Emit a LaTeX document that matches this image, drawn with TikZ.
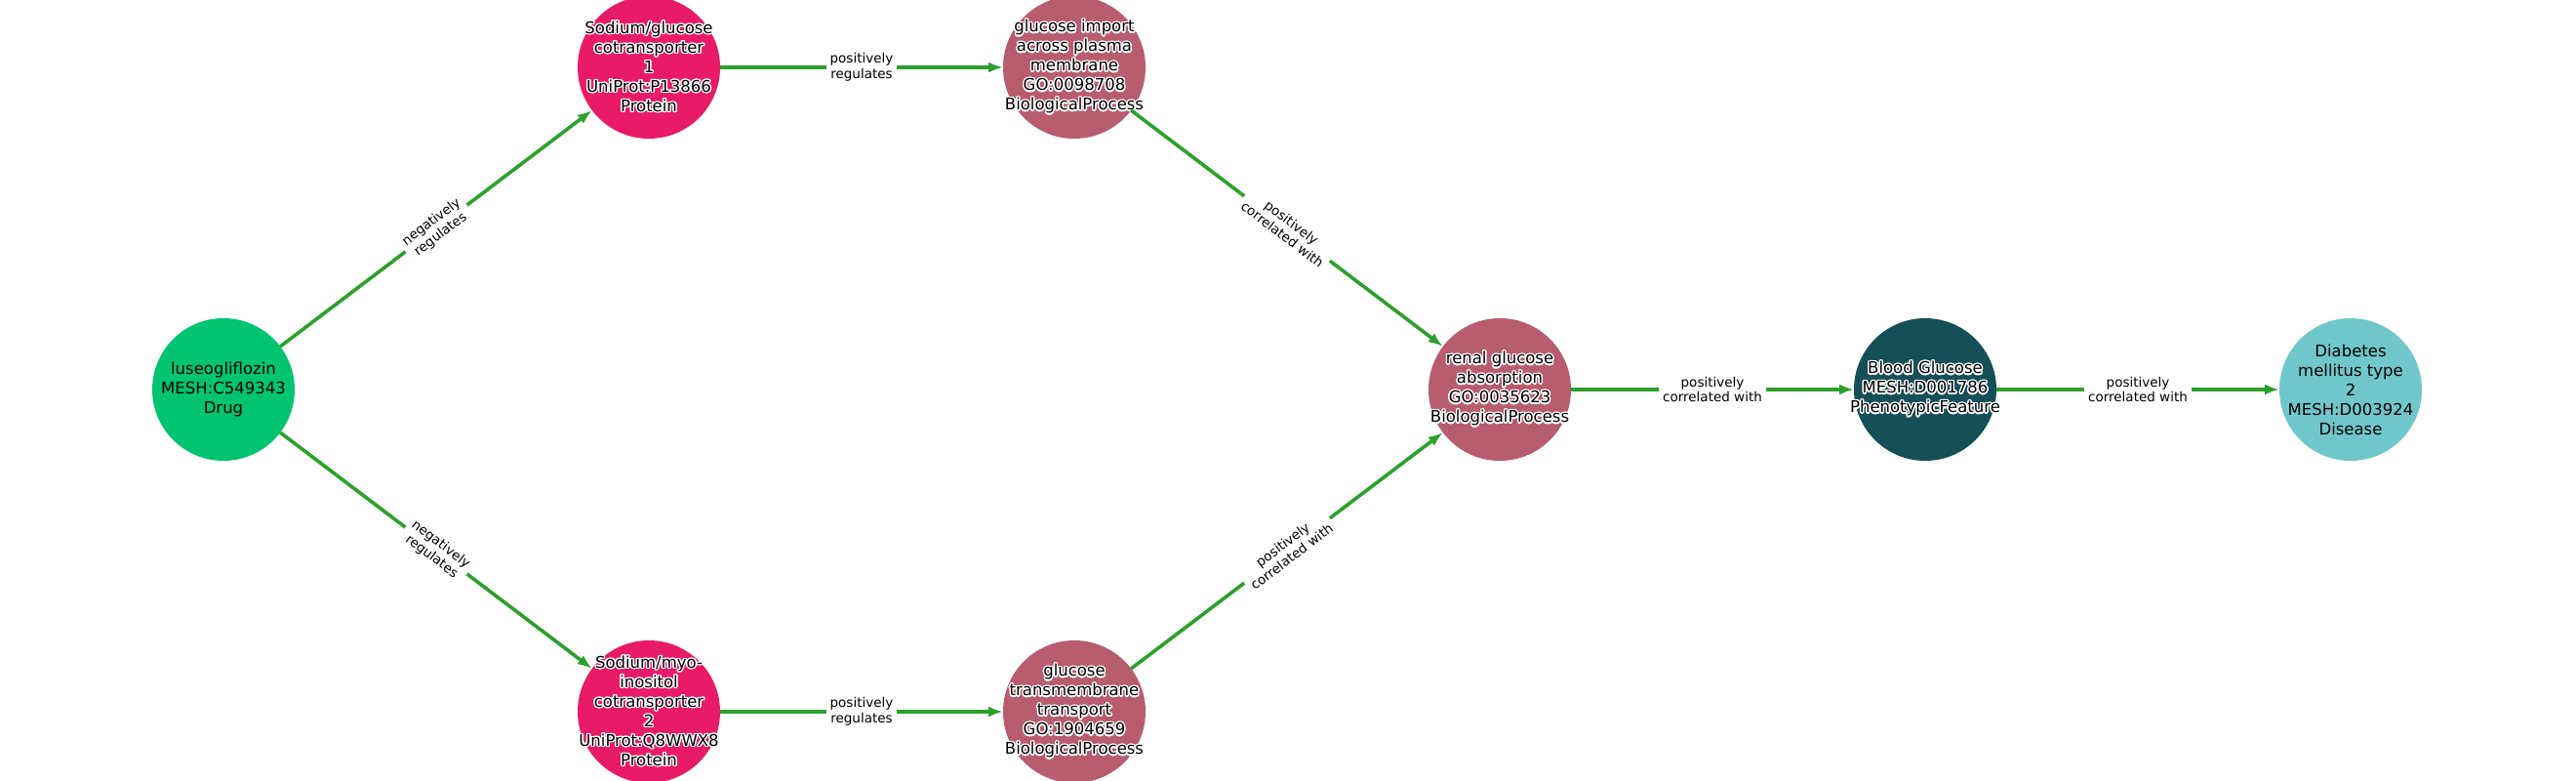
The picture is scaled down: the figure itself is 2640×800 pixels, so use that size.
\documentclass[tikz,border=0pt]{standalone}
\usepackage{fontspec}
\setmainfont{DejaVu Sans}
\usepackage{contour}
\contourlength{1.4pt}
\usetikzlibrary{arrows.meta}

\definecolor{drugcol}{RGB}{0,196,112}
\definecolor{protcol}{RGB}{233,26,104}
\definecolor{proccol}{RGB}{184,92,112}
\definecolor{phenocol}{RGB}{21,79,88}
\definecolor{discol}{RGB}{112,199,203}
\definecolor{edgecol}{RGB}{44,160,44}

\newcommand{\halo}[1]{\contour{white}{#1}}

\tikzset{
    entity/.style={circle, draw=none, minimum size=146pt, inner sep=0pt, outer sep=0pt},
    entitytext/.style={align=center, inner sep=0pt, font=\fontsize{16.5}{20}\selectfont},
    drugnode/.style={entity, fill=drugcol},
    protnode/.style={entity, fill=protcol},
    procnode/.style={entity, fill=proccol},
    phenonode/.style={entity, fill=phenocol},
    disnode/.style={entity, fill=discol},
    rel/.style={draw=edgecol, line width=3.6pt, -{Latex[length=15pt,width=11pt]}},
    rellabel/.style={fill=white, inner sep=4pt, align=center, text=black,
        font=\fontsize{13.5}{15.5}\selectfont}
}

\begin{document}
\begin{tikzpicture}[x=1pt, y=-1pt]
    \useasboundingbox (0,0) rectangle (2640,800);
    \clip (0,0) rectangle (2640,800);
    % Place nodes
    \node [drugnode, label={[entitytext]center:luseogliflozin\\MESH:C549343\\Drug}] (drug) at (229,399) {};
    \node [protnode, label={[entitytext]center:\halo{Sodium/glucose}\\\halo{cotransporter}\\\halo{1}\\\halo{UniProt:P13866}\\\halo{Protein}}] (sglt) at (665,69) {};
    \node [protnode, label={[entitytext]center:\halo{Sodium/myo-}\\\halo{inositol}\\\halo{cotransporter}\\\halo{2}\\\halo{UniProt:Q8WWX8}\\\halo{Protein}}] (smit) at (665,729) {};
    \node [procnode, label={[entitytext]center:\halo{glucose import}\\\halo{across plasma}\\\halo{membrane}\\\halo{GO:0098708}\\\halo{BiologicalProcess}}] (gimport) at (1101,69) {};
    \node [procnode, label={[entitytext]center:\halo{glucose}\\\halo{transmembrane}\\\halo{transport}\\\halo{GO:1904659}\\\halo{BiologicalProcess}}] (gtrans) at (1101,729) {};
    \node [procnode, label={[entitytext]center:\halo{renal glucose}\\\halo{absorption}\\\halo{GO:0035623}\\\halo{BiologicalProcess}}] (renal) at (1537,399) {};
    \node [phenonode, label={[entitytext]center:\halo{Blood Glucose}\\\halo{MESH:D001786}\\\halo{PhenotypicFeature}}] (blood) at (1973,399) {};
    \node [disnode, label={[entitytext]center:Diabetes\\mellitus type\\2\\MESH:D003924\\Disease}] (diab) at (2409,399) {};
    % Relations
    \path [rel] (drug) -- node [rellabel, sloped] {negatively\\regulates} (sglt);
    \path [rel] (drug) -- node [rellabel, sloped] {negatively\\regulates} (smit);
    \path [rel] (sglt) -- node [rellabel] {positively\\regulates} (gimport);
    \path [rel] (smit) -- node [rellabel] {positively\\regulates} (gtrans);
    \path [rel] (gimport) -- node [rellabel, sloped] {positively\\correlated with} (renal);
    \path [rel] (gtrans) -- node [rellabel, sloped] {positively\\correlated with} (renal);
    \path [rel] (renal) -- node [rellabel] {positively\\correlated with} (blood);
    \path [rel] (blood) -- node [rellabel] {positively\\correlated with} (diab);
\end{tikzpicture}
\end{document}
